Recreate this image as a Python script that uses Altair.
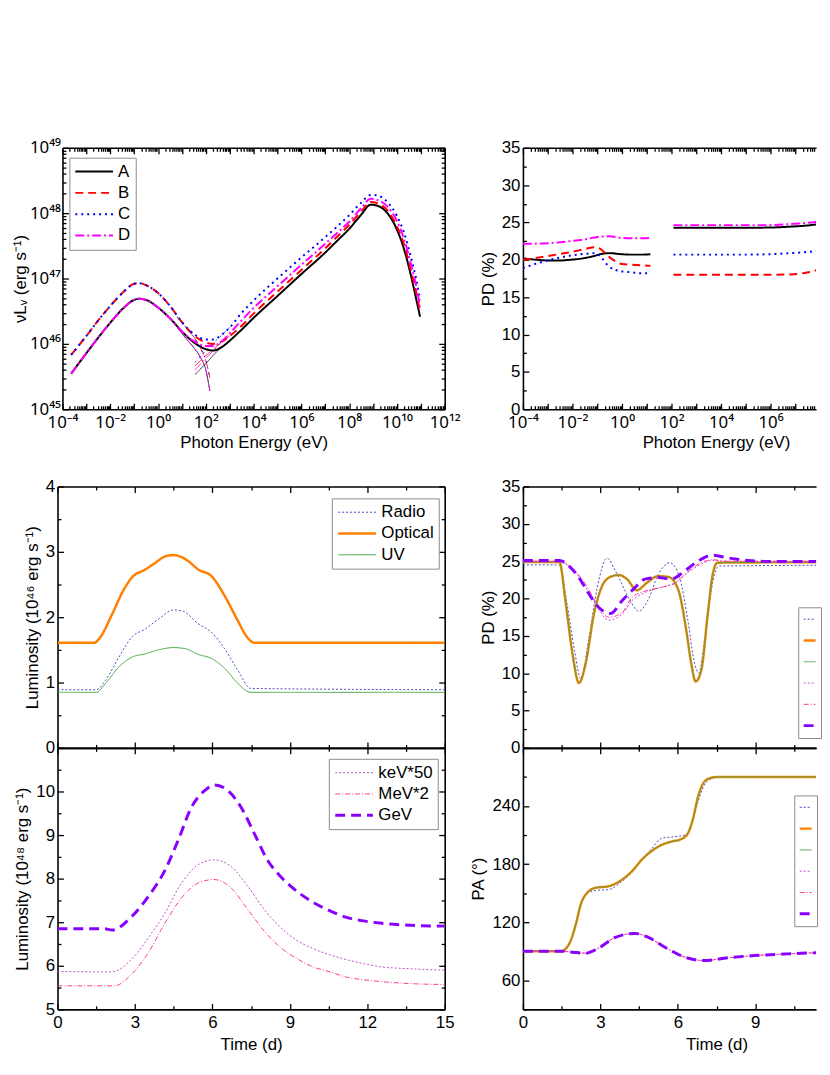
import altair as alt
import pandas as pd

FONT = "Liberation Sans"
SUPFONT = "Noto Sans"
FS = 17
MAJ, MIN = 6, 3.5

# ---------------- (a) SED : nuL_nu vs photon energy ----------------
sed_models = ["A", "B", "C", "D"]
sed_colors = ["#000000", "#ff0000", "#0000ff", "#ff00ff"]
sed_dashes = [[1, 0], [8, 5], [2, 4], [9, 3, 2, 3]]
sed_energy = [2.3e-4, 1e-3, 3.2e-3, 1e-2, 3.2e-2, 0.1, 0.16, 0.32, 1, 3.2, 10, 32, 100, 200,
              500, 1e3, 3.2e3, 1e4, 1e5, 1e6, 1e7, 3.2e7, 1e8, 3.2e8, 8e8, 1.6e9, 4e9, 1e10,
              2e10, 4e10, 6.3e10, 9.3e10]
sed_A = [3.5e45, 7.2e45, 1.26e46, 2.1e46, 3.4e46, 4.7e46, 4.9e46, 4.7e46, 3.6e46, 2.45e46,
         1.55e46, 1.05e46, 8.3e45, 7.9e45, 9.1e45, 1.12e46, 1.66e46, 2.5e46, 5.4e46, 1.17e47,
         2.5e47, 3.8e47, 5.75e47, 9.5e47, 1.35e48, 1.29e48, 1.0e48, 5.6e47, 2.8e47, 1.05e47,
         5.0e46, 2.6e46]
sed_B = [6.8e45, 1.32e46, 2.3e46, 3.8e46, 6.0e46, 8.3e46, 8.5e46, 7.9e46, 6.0e46, 3.8e46,
         2.15e46, 1.35e46, 1.05e46, 1.0e46, 1.1e46, 1.32e46, 1.9e46, 2.9e46, 6.3e46, 1.35e47,
         2.9e47, 4.4e47, 6.6e47, 1.07e48, 1.48e48, 1.41e48, 1.1e48, 6.3e47, 3.3e47, 1.26e47,
         6.3e46, 3.1e46]
sed_C = [6.8e45, 1.32e46, 2.3e46, 3.8e46, 6.0e46, 8.3e46, 8.5e46, 7.9e46, 6.0e46, 3.8e46,
         2.15e46, 1.41e46, 1.17e46, 1.17e46, 1.41e46, 1.78e46, 3.0e46, 4.6e46, 1.0e47, 2.1e47,
         4.3e47, 6.3e47, 9.3e47, 1.45e48, 1.9e48, 1.86e48, 1.48e48, 9.1e47, 5.0e47, 2.0e47,
         1.0e47, 4.7e46]
sed_D = [3.5e45, 7.2e45, 1.26e46, 2.1e46, 3.4e46, 4.7e46, 4.9e46, 4.7e46, 3.6e46, 2.45e46,
         1.55e46, 1.1e46, 9.3e45, 9.3e45, 1.12e46, 1.45e46, 2.3e46, 3.55e46, 7.6e46, 1.62e47,
         3.4e47, 5.0e47, 7.4e47, 1.2e48, 1.66e48, 1.58e48, 1.26e48, 7.6e47, 4.0e47, 1.58e47,
         7.9e46, 3.7e46]
syn_energy = [6.3, 16, 32, 63, 100, 148]
syn_A = [1.82e46, 1.17e46, 8.7e45, 6.0e45, 4.0e45, 1.9e45]
syn_B = [2.6e46, 1.74e46, 1.26e46, 8.3e45, 5.6e45, 3.0e45]
syn_C = [2.6e46, 1.74e46, 1.26e46, 8.3e45, 5.6e45, 3.0e45]
syn_D = [1.82e46, 1.17e46, 8.7e45, 6.0e45, 4.0e45, 1.9e45]
ic_energy = [35, 100, 320, 1000]
ic_A = [3.4e45, 5.0e45, 7.9e45, 1.12e46]
ic_B = [4.6e45, 6.6e45, 9.5e45, 1.32e46]
ic_C = [5.2e45, 7.9e45, 1.2e46, 1.78e46]
ic_D = [4.0e45, 6.0e45, 9.3e45, 1.45e46]

# ---------------- (b) PD vs photon energy ----------------
pd_energy_lo = [1e-4, 6.3e-4, 2.2e-3, 7.6e-3, 3.2e-2, 0.08, 0.13, 0.3, 1.0, 2.2, 6.5, 14]
pd_energy_hi = [120, 1e3, 1e4, 1e5, 7.6e5, 6.5e6, 3e7, 1.2e8, 1e9, 1e10, 1e11]
pd_A_lo = [20.2, 19.95, 19.9, 20.0, 20.25, 20.55, 20.75, 20.9, 20.75, 20.7, 20.7, 20.75]
pd_B_lo = [20.0, 20.4, 20.7, 21.0, 21.45, 21.7, 21.5, 20.4, 19.45, 19.35, 19.25, 19.2]
pd_C_lo = [18.9, 19.75, 20.2, 20.55, 20.8, 20.9, 20.5, 19.1, 18.45, 18.35, 18.2, 18.2]
pd_D_lo = [22.15, 22.2, 22.3, 22.5, 22.75, 23.0, 23.1, 23.15, 22.95, 22.9, 22.9, 22.95]
pd_A_hi = [24.3, 24.3, 24.3, 24.3, 24.32, 24.45, 24.6, 24.85, 25.2, 25.6, 26.0]
pd_B_hi = [18.0, 18.0, 18.0, 18.0, 18.0, 18.05, 18.3, 18.8, 19.5, 20.2, 20.8]
pd_C_hi = [20.7, 20.7, 20.7, 20.7, 20.75, 20.9, 21.05, 21.3, 21.7, 22.1, 22.4]
pd_D_hi = [24.65, 24.65, 24.65, 24.65, 24.65, 24.8, 24.95, 25.2, 25.6, 26.0, 26.3]

# ---------------- light curves ----------------
band_names = ["Radio", "Optical", "UV", "keV", "MeV", "GeV"]
band_colors = ["#4848c4", "#ff8000", "#48a848", "#c050c8", "#ff3a96", "#8a00ff"]
band_dashes = [[2, 2], [1, 0], [1, 0], [2, 2], [5, 2, 1, 2], [10, 6]]
band_widths = [1, 2.5, 1, 1, 1, 3]
low_labels = ["Radio", "Optical", "UV"]
high_labels = ["keV*50", "MeV*2", "GeV"]

radio_t = [0, 1.5, 1.87, 2.38, 2.89, 3.40, 3.91, 4.49, 4.87, 5.45, 5.96, 6.47, 6.98, 7.49, 15]
radio_L = [0.89, 0.89, 1.04, 1.39, 1.70, 1.82, 1.97, 2.11, 2.09, 1.90, 1.77, 1.52, 1.19, 0.91, 0.89]
optical_t = [0, 1.42, 1.61, 2.12, 2.51, 2.89, 3.40, 3.78, 4.17, 4.5, 4.74, 5.06, 5.45, 5.96,
             6.47, 6.98, 7.30, 7.62, 15]
optical_L = [1.61, 1.61, 1.67, 2.05, 2.38, 2.61, 2.73, 2.83, 2.93, 2.95, 2.93, 2.86, 2.73, 2.63,
             2.33, 1.95, 1.72, 1.61, 1.61]
uv_t = [0, 1.5, 1.87, 2.38, 2.89, 3.40, 3.91, 4.49, 4.93, 5.45, 5.96, 6.47, 6.98, 7.49, 15]
uv_L = [0.85, 0.85, 0.99, 1.24, 1.39, 1.44, 1.50, 1.535, 1.52, 1.43, 1.37, 1.22, 0.99, 0.85, 0.85]

kev_t = [0, 2.1, 2.89, 3.53, 4.17, 4.81, 5.45, 6.06, 6.72, 7.36, 8.0, 8.64, 9.28, 9.92, 10.56,
         11.2, 11.84, 12.48, 13.69, 15]
kev_L = [5.87, 5.86, 6.16, 6.65, 7.22, 7.90, 8.32, 8.43, 8.28, 7.83, 7.30, 6.88, 6.58, 6.39,
         6.25, 6.14, 6.05, 5.98, 5.93, 5.90]
mev_t = [0, 2.2, 2.89, 3.53, 4.17, 4.81, 5.45, 6.06, 6.72, 7.36, 8.0, 8.64, 9.28, 9.92, 10.56,
         11.2, 11.84, 12.48, 13.69, 15]
mev_L = [5.54, 5.54, 5.82, 6.31, 6.99, 7.56, 7.90, 7.98, 7.79, 7.30, 6.80, 6.42, 6.16, 5.97,
         5.86, 5.74, 5.68, 5.64, 5.59, 5.57]
gev_t = [0, 1.8, 2.12, 2.89, 3.53, 4.17, 4.68, 5.19, 5.70, 6.09, 6.60, 7.11, 7.62, 8.13, 8.64,
         9.03, 9.92, 10.56, 11.2, 11.84, 12.48, 13.69, 15]
gev_L = [6.85, 6.85, 6.82, 7.14, 7.60, 8.20, 8.89, 9.64, 10.02, 10.15, 10.02, 9.64, 9.04, 8.43,
         8.05, 7.83, 7.45, 7.26, 7.11, 7.03, 6.98, 6.93, 6.91]

# PD vs time
pdt_radio_t = [0, 1.41, 1.7, 2.0, 2.24, 2.56, 2.88, 3.26, 3.58, 4.09, 4.48, 4.86, 5.24, 5.69,
               6.07, 6.39, 6.65, 6.82, 7.0, 7.22, 7.42, 7.61, 15]
pdt_radio = [24.5, 24.5, 19.5, 13.0, 9.3, 14.85, 21.5, 25.4, 23.7, 20.15, 18.3, 19.9, 23.2, 24.8,
             22.8, 17.06, 11.3, 10.0, 13.5, 19.3, 23.2, 24.35, 24.5]
pdt_opt_t = [0, 1.41, 1.66, 1.92, 2.17, 2.43, 2.75, 3.07, 3.39, 3.71, 4.03, 4.41, 4.8, 5.24,
             5.63, 6.01, 6.33, 6.52, 6.69, 6.91, 7.16, 7.35, 7.54, 15]
pdt_opt = [24.9, 24.9, 19.3, 12.6, 8.7, 11.3, 17.9, 21.7, 22.9, 23.15, 22.6, 21.1, 22.1, 23.0,
           22.9, 21.25, 15.7, 11.3, 8.9, 10.4, 17.9, 23.2, 24.8, 24.9]
pdt_uv = [24.9, 24.9, 19.3, 12.6, 8.7, 11.3, 17.9, 21.7, 22.9, 23.15, 22.6, 21.1, 22.1, 23.0,
          22.9, 21.25, 15.7, 11.3, 8.9, 10.4, 17.9, 23.2, 24.8, 24.9]
pdt_x_t = [0, 1.41, 1.92, 2.43, 2.81, 3.32, 3.84, 4.22, 4.73, 5.37, 5.88, 6.39, 6.91, 7.35, 7.8, 15]
pdt_kev = [24.9, 24.9, 23.9, 21.5, 19.3, 17.1, 17.9, 19.7, 20.8, 21.5, 22.1, 23.5, 24.6, 25.1, 25.0, 24.9]
pdt_mev = [25.0, 25.0, 24.0, 21.9, 19.6, 17.5, 18.1, 20.15, 21.0, 21.5, 22.0, 23.6, 24.8, 25.2, 25.0, 25.0]
pdt_gev_t = [0, 1.41, 1.79, 2.17, 2.56, 2.94, 3.39, 3.84, 4.28, 4.73, 5.24, 5.75, 6.27, 6.78,
             7.35, 7.93, 8.7, 9.6, 15]
pdt_gev = [25.1, 25.1, 24.35, 22.8, 20.6, 18.8, 18.0, 19.7, 21.25, 22.6, 22.8, 22.6, 23.7, 25.0,
           25.8, 25.45, 25.1, 24.95, 24.95]

# PA vs time
pa_opt_t = [0, 1.47, 1.79, 2.05, 2.24, 2.49, 2.81, 3.32, 3.84, 4.22, 4.6, 4.99, 5.37, 5.75,
            6.14, 6.39, 6.59, 6.78, 6.97, 7.22, 7.54, 15]
pa_opt = [90, 90, 97.5, 118, 138.4, 150.4, 155.5, 157.1, 164, 172.5, 184.4, 193.6, 199.8, 203.2,
          205.9, 211.7, 227, 249.2, 262.9, 268.6, 270, 270]
pa_uv = [90, 90, 97.5, 118, 138.4, 150.4, 155.5, 157.1, 164, 172.5, 184.4, 193.6, 199.8, 203.2,
         205.9, 211.7, 227, 249.2, 262.9, 268.6, 270, 270]
pa_radio_t = [0, 1.47, 1.79, 2.05, 2.24, 2.49, 2.81, 3.32, 3.84, 4.22, 4.6, 4.99, 5.37, 5.88,
              6.27, 6.52, 6.78, 7.03, 7.35, 7.67, 15]
pa_radio = [90, 90, 97.5, 118, 138, 149.5, 152.7, 153.7, 162.2, 171.5, 184.5, 196, 206.6, 208.3,
            210, 220.2, 244, 261.8, 268.6, 270, 270]
pa_x_t = [0, 1.5, 1.92, 2.43, 2.94, 3.58, 4.35, 4.86, 5.5, 6.27, 7.03, 7.93, 8.95, 10.23, 11.58,
          13.3, 15]
pa_kev = [90, 90, 89, 88, 93.4, 104.3, 108.4, 104.3, 94.1, 83.9, 80.4, 83.2, 85.5, 87.3, 88.6, 89.3, 89.6]
pa_mev = [90, 90, 89, 88, 93.4, 104.3, 108.4, 104.3, 94.1, 83.9, 80.4, 83.2, 85.5, 87.3, 88.6, 89.3, 89.6]
pa_gev = [90, 90, 89, 88, 93.4, 104.3, 108.4, 104.3, 94.1, 83.9, 80.4, 83.2, 85.5, 87.3, 88.6, 89.3, 89.6]

# ---------------- tick labels ----------------
SUP = str.maketrans("-0123456789", "⁻⁰¹²³⁴⁵⁶⁷⁸⁹")
energy_label_exps = [-4, -2, 0, 2, 4, 6, 8, 10, 12]
energy_label_exps_cut = [-4, -2, 0, 2, 4, 6]
lum_label_exps = [45, 46, 47, 48, 49]
time_ticks = [0, 1.5, 3, 4.5, 6, 7.5, 9, 10.5, 12, 13.5, 15]
time_ticks_cut = [0, 1.5, 3, 4.5, 6, 7.5, 9, 10.5]
pd_ticks = [0, 2.5, 5, 7.5, 10, 12.5, 15, 17.5, 20, 22.5, 25, 27.5, 30, 32.5, 35]
lum46_ticks = [0, 0.5, 1, 1.5, 2, 2.5, 3, 3.5, 4]
lum48_ticks = [5, 5.5, 6, 6.5, 7, 7.5, 8, 8.5, 9, 9.5, 10, 10.5, 11]
pa_ticks = [30, 60, 90, 120, 150, 180, 210, 240, 270, 300]


def log_ticks(lo, hi):
    vals = [float(f"{k}e{n}") for n in range(lo, hi) for k in range(1, 10)]
    return vals + [float(f"1e{hi}")]


def pow_expr(exps):
    parts = [f"datum.value == {float(f'1e{n}')!r} ? '10{str(n).translate(SUP)}'" for n in exps]
    return " : ".join(parts) + " : ''"


LOG_MAJOR = "abs(log(datum.value) / LN10 - round(log(datum.value) / LN10)) < 1e-6"


def ax(orient, values, major_test, label_expr=None, title=None, offset=0, title_padding=4,
       label_font=None, title_x=None, label_gap=None):
    kw = dict(orient=orient, values=values,
              tickSize={"expr": f"({major_test}) ? -{MAJ} : -{MIN}"},
              domain=True, grid=False, labelFlush=False, labelOverlap=False,
              titlePadding=title_padding, title=title)
    if label_expr is None:
        kw["labels"] = False
    else:
        kw["labelExpr"] = label_expr
        kw["labelAngle"] = 0
        if label_gap is None:
            label_gap = 5 if orient in ("bottom", "top") else 3
        kw["labelPadding"] = MAJ + label_gap
    if offset:
        kw["offset"] = offset
    if label_font:
        kw["labelFont"] = label_font
    if title_x is not None:
        kw["titleX"] = title_x
    return alt.Axis(**kw)


def legend(x, y, stroke_width=None, cut=False):
    kw = dict(orient="none", legendX=x, legendY=y, symbolType="stroke",
              clipHeight=18, rowPadding=3.5, strokeColor="#8c8c8c", fillColor="white",
              labelFont=FONT, labelFontSize=FS, labelColor="black")
    if cut:
        # the reference page cuts this legend at its right border
        kw.update(symbolSize=144, labelOffset=0, padding=3, labelExpr="''")
    else:
        kw.update(symbolSize=1444, labelOffset=4, padding=5)
    if stroke_width:
        kw["symbolStrokeWidth"] = stroke_width
    return alt.Legend(**kw)


def series_encodings(names, colors, dashes, widths, leg):
    enc = dict(
        color=alt.Color("series:N", scale=alt.Scale(domain=names, range=colors), legend=leg, title=None),
        strokeDash=alt.StrokeDash("series:N", scale=alt.Scale(type="ordinal", domain=names, range=dashes),
                                  legend=leg, title=None),
    )
    if widths is not None:
        enc["strokeWidth"] = alt.StrokeWidth("series:N",
                                             scale=alt.Scale(type="ordinal", domain=names, range=widths),
                                             legend=leg, title=None)
    return enc


def frame_layer(df, xf, yf, xscale, yscale, ax_top, ax_right=None):
    y = alt.Y(yf, scale=yscale, axis=ax_right) if ax_right is not None else alt.Y(yf, scale=yscale, axis=None)
    return alt.Chart(df).mark_line(strokeOpacity=0, clip=True).encode(
        x=alt.X(xf, scale=xscale, axis=ax_top), y=y)


def long(names, xs_list, ys_list, xname, yname, extra=None):
    rows = []
    for i, (nm, xs, ys) in enumerate(zip(names, xs_list, ys_list)):
        for xv, yv in zip(xs, ys):
            r = {"series": nm, xname: xv, yname: yv}
            if extra:
                r["seg"] = extra[i]
            rows.append(r)
    return pd.DataFrame(rows)


sed_tot = long(sed_models, [sed_energy] * 4, [sed_A, sed_B, sed_C, sed_D], "E", "L")
sed_comp = pd.concat([
    long(sed_models, [syn_energy] * 4, [syn_A, syn_B, syn_C, syn_D], "E", "L", ["syn"] * 4),
    long(sed_models, [ic_energy] * 4, [ic_A, ic_B, ic_C, ic_D], "E", "L", ["ic"] * 4),
], ignore_index=True)
pd_e = pd.concat([
    long(sed_models, [pd_energy_lo] * 4, [pd_A_lo, pd_B_lo, pd_C_lo, pd_D_lo], "E", "PD", ["lo"] * 4),
    long(sed_models, [pd_energy_hi] * 4, [pd_A_hi, pd_B_hi, pd_C_hi, pd_D_hi], "E", "PD", ["hi"] * 4),
], ignore_index=True)
lc_low = long(low_labels, [radio_t, optical_t, uv_t], [radio_L, optical_L, uv_L], "t", "L")
lc_high = long(high_labels, [kev_t, mev_t, gev_t], [kev_L, mev_L, gev_L], "t", "L")
pd_t = long(band_names, [pdt_radio_t, pdt_opt_t, pdt_opt_t, pdt_x_t, pdt_x_t, pdt_gev_t],
            [pdt_radio, pdt_opt, pdt_uv, pdt_kev, pdt_mev, pdt_gev], "t", "PD")
pa_t = long(band_names, [pa_radio_t, pa_opt_t, pa_opt_t, pa_x_t, pa_x_t, pa_x_t],
            [pa_radio, pa_opt, pa_uv, pa_kev, pa_mev, pa_gev], "t", "PA")

W, H = 391, 264          # left panels
WR = 296                 # visible part of the right panels (page edge cuts them)
GAP = 78
TOP_H = H + GAP

energy_vals = log_ticks(-4, 12)
energy_vals_cut = [v for v in log_ticks(-4, 8) if v <= 10 ** (-4 + WR / 25)]
lum_vals = log_ticks(45, 49)

# ---------------- panel (a) ----------------
xs_a = alt.Scale(type="log", domain=[1e-4, 1e12], range=[5, W])
ys_a = alt.Scale(type="log", domain=[1e45, 1e49], range=[H, 0])
enc_a = series_encodings(sed_models, sed_colors, sed_dashes, None, legend(12, 10, stroke_width=2))
a_tot = alt.Chart(sed_tot).mark_line(strokeWidth=2, interpolate="monotone").encode(
    x=alt.X("E:Q", scale=xs_a, axis=ax("bottom", energy_vals, LOG_MAJOR, pow_expr(energy_label_exps),
                                       "Photon Energy (eV)", offset=-GAP, title_padding=2,
                                       label_font=SUPFONT)),
    y=alt.Y("L:Q", scale=ys_a, axis=ax("left", lum_vals, LOG_MAJOR, pow_expr(lum_label_exps),
                                       "νLᵥ (erg s⁻¹)", offset=-5, title_padding=0,
                                       label_font=SUPFONT, label_gap=2)),
    **enc_a)
a_comp = alt.Chart(sed_comp).mark_line(strokeWidth=0.8, interpolate="monotone").encode(
    x=alt.X("E:Q", scale=xs_a, axis=None), y=alt.Y("L:Q", scale=ys_a, axis=None),
    detail="seg:N", **enc_a)
a_frame = frame_layer(sed_tot, "E:Q", "L:Q", xs_a, ys_a,
                      ax("top", energy_vals, LOG_MAJOR), ax("right", lum_vals, LOG_MAJOR))
panel_a = alt.layer(a_tot, a_comp, a_frame).resolve_axis(x="independent", y="independent") \
    .properties(width=W, height=TOP_H)

# ---------------- panel (b) ----------------
xs_b = alt.Scale(type="log", domain=[1e-4, 10 ** (-4 + WR / 25)], range=[0, WR])
ys_b = alt.Scale(domain=[0, 35], range=[H, 0])
PD_MAJOR = "datum.value % 5 == 0"
PD_LABEL = "datum.value % 5 == 0 ? format(datum.value, 'd') : ''"
enc_b = series_encodings(sed_models, sed_colors, sed_dashes, None, None)
b_lines = alt.Chart(pd_e).mark_line(strokeWidth=2, interpolate="monotone", clip=True).encode(
    x=alt.X("E:Q", scale=xs_b, axis=ax("bottom", energy_vals_cut, LOG_MAJOR,
                                       pow_expr(energy_label_exps_cut),
                                       "Photon Energy (eV)", offset=-GAP, title_padding=2,
                                       label_font=SUPFONT, title_x=195)),
    y=alt.Y("PD:Q", scale=ys_b, axis=ax("left", pd_ticks, PD_MAJOR, PD_LABEL, "PD (%)")),
    detail="seg:N", **enc_b)
b_frame = frame_layer(pd_e, "E:Q", "PD:Q", xs_b, ys_b, ax("top", energy_vals_cut, LOG_MAJOR))
panel_b = alt.layer(b_lines, b_frame).resolve_axis(x="independent", y="independent") \
    .properties(width=WR, height=TOP_H)

# ---------------- time panels ----------------
T_MAJOR = "datum.value % 3 == 0"
T_LABEL = "datum.value % 3 == 0 ? format(datum.value, 'd') : ''"


def time_panel(df, yf, ys, y_vals, y_major, y_label, y_title, names, colors, dashes, widths, leg,
               with_x_labels, right_side):
    if right_side:
        xs = alt.Scale(domain=[0, 15 * WR / W])
        ticks = time_ticks_cut
        width = WR
    else:
        xs = alt.Scale(domain=[0, 15])
        ticks = time_ticks
        width = W
    if with_x_labels:
        xb = ax("bottom", ticks, T_MAJOR, T_LABEL, "Time (d)", title_padding=4,
                title_x=W / 2 if right_side else None)
    else:
        xb = ax("bottom", ticks, T_MAJOR)
    lines = alt.Chart(df).mark_line(interpolate="monotone", clip=True).encode(
        x=alt.X("t:Q", scale=xs, axis=xb),
        y=alt.Y(yf, scale=ys, axis=ax("left", y_vals, y_major, y_label, y_title)),
        **series_encodings(names, colors, dashes, widths, leg))
    fr = frame_layer(df, "t:Q", yf, xs, ys, ax("top", ticks, T_MAJOR),
                     None if right_side else ax("right", y_vals, y_major))
    return alt.layer(lines, fr).resolve_axis(x="independent", y="independent") \
        .properties(width=width, height=H)


INT_MAJOR = "datum.value % 1 == 0"
panel_c = time_panel(lc_low, "L:Q", alt.Scale(domain=[0, 4]), lum46_ticks, INT_MAJOR,
                     "datum.value % 1 == 0 ? format(datum.value, 'd') : ''",
                     "Luminosity (10⁴⁶ erg s⁻¹)", low_labels, band_colors[:3], band_dashes[:3],
                     band_widths[:3], legend(277, 12), False, False)
panel_d = time_panel(pd_t, "PD:Q", alt.Scale(domain=[0, 35]), pd_ticks, PD_MAJOR, PD_LABEL,
                     "PD (%)", band_names, band_colors, band_dashes, band_widths,
                     legend(278, 122, cut=True), False, True)
panel_e = time_panel(lc_high, "L:Q", alt.Scale(domain=[5, 11]), lum48_ticks, INT_MAJOR,
                     "datum.value % 1 == 0 && datum.value < 11 ? format(datum.value, 'd') : ''",
                     "Luminosity (10⁴⁸ erg s⁻¹)", high_labels, band_colors[3:], band_dashes[3:],
                     band_widths[3:], legend(274, 11), True, False)
panel_f = time_panel(pa_t, "PA:Q", alt.Scale(domain=[30, 300]), pa_ticks, "datum.value % 60 == 0",
                     "datum.value % 60 == 0 && datum.value < 300 ? format(datum.value, 'd') : ''",
                     "PA (°)", band_names, band_colors, band_dashes, band_widths,
                     legend(274, 48, cut=True), True, True)

chart = alt.concat(panel_a, panel_b, panel_c, panel_d, panel_e, panel_f,
                   columns=2, spacing={"row": 0, "column": 79}, bounds="flush", align="each") \
    .resolve_scale(color="independent", strokeDash="independent", strokeWidth="independent") \
    .properties(padding={"left": 3, "top": 126, "right": 0, "bottom": 5}) \
    .configure_view(stroke="transparent") \
    .configure_axis(labelFont=FONT, titleFont=FONT, labelFontSize=FS, titleFontSize=FS,
                    titleFontWeight="normal", labelColor="black", titleColor="black",
                    tickColor="black", domainColor="black", domainWidth=1.6, tickWidth=1.3) \
    .configure_legend(labelFont=FONT, labelFontSize=FS, labelColor="black")

chart.save("out.html", embed_options={"renderer": "svg", "actions": False})
